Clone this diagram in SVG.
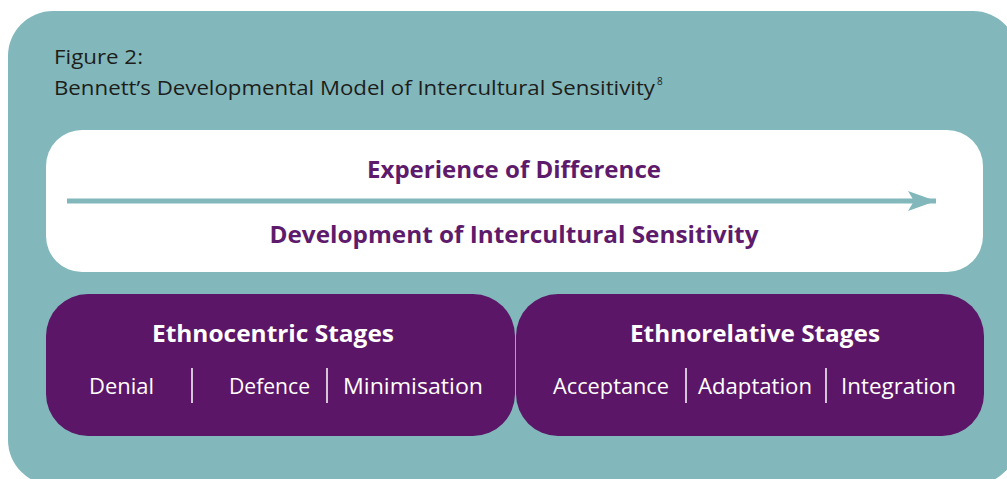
<svg xmlns="http://www.w3.org/2000/svg" width="1007" height="479" viewBox="0 0 1007 479">
  <defs>
    <style>
      .title { font-family: "Open Sans", "Noto Sans", sans-serif; font-size: 20px; fill: #1d1d1b; }
      .head { font-family: "Open Sans", "Noto Sans", sans-serif; font-size: 23px; font-weight: bold; fill: #5e1a6b; text-anchor: middle; }
      .stage { font-family: "Open Sans", "Noto Sans", sans-serif; font-size: 23px; font-weight: bold; fill: #ffffff; text-anchor: middle; }
      .item { font-family: "Open Sans", "Noto Sans", sans-serif; font-size: 21px; fill: #ffffff; }
      .div { stroke: #ffffff; stroke-width: 1.5; }
      .box { fill: #5c1668; }
    </style>
    <marker id="ah" viewBox="0 0 28 20" refX="28" refY="10" markerWidth="28" markerHeight="20" markerUnits="userSpaceOnUse" orient="auto">
      <path d="M0,0 L28,10 L0,20 L6,10 Z" fill="#82b8bb"/>
    </marker>
  </defs>
  <rect id="background" x="8" y="11" width="1010" height="474" rx="45" ry="45" fill="#82b8bb"/>
  <g id="title">
    <text class="title" x="54" y="64" textLength="89" lengthAdjust="spacingAndGlyphs">Figure 2:</text>
    <text class="title" x="54" y="95" textLength="601" lengthAdjust="spacingAndGlyphs">Bennett’s Developmental Model of Intercultural Sensitivity</text>
    <text class="title" x="657" y="85" style="font-size:10px">8</text>
  </g>
  <g id="experience">
    <rect x="46" y="130" width="937" height="142" rx="36" ry="36" fill="#ffffff"/>
    <text class="head" x="514" y="178" textLength="294" lengthAdjust="spacingAndGlyphs">Experience of Difference</text>
    <text class="head" x="514" y="243" textLength="489" lengthAdjust="spacingAndGlyphs">Development of Intercultural Sensitivity</text>
  </g>
  <g id="connectors">
    <line x1="67" y1="201" x2="936" y2="201" stroke="#82b8bb" stroke-width="5" marker-end="url(#ah)"/>
  </g>
  <g id="ethnocentric">
    <rect class="box" x="46" y="294" width="469" height="142" rx="42" ry="42"/>
    <text class="stage" x="273" y="342" textLength="242" lengthAdjust="spacingAndGlyphs">Ethnocentric Stages</text>
    <text class="item" x="89" y="394" textLength="65" lengthAdjust="spacingAndGlyphs">Denial</text>
    <line class="div" x1="192" y1="368" x2="192" y2="403"/>
    <text class="item" x="229" y="394" textLength="81" lengthAdjust="spacingAndGlyphs">Defence</text>
    <line class="div" x1="327" y1="368" x2="327" y2="403"/>
    <text class="item" x="343" y="394" textLength="140" lengthAdjust="spacingAndGlyphs">Minimisation</text>
  </g>
  <g id="ethnorelative">
    <rect class="box" x="516" y="294" width="468" height="142" rx="42" ry="42"/>
    <text class="stage" x="755" y="342" textLength="250" lengthAdjust="spacingAndGlyphs">Ethnorelative Stages</text>
    <text class="item" x="553" y="394" textLength="116" lengthAdjust="spacingAndGlyphs">Acceptance</text>
    <line class="div" x1="686" y1="368" x2="686" y2="403"/>
    <text class="item" x="698" y="394" textLength="114" lengthAdjust="spacingAndGlyphs">Adaptation</text>
    <line class="div" x1="826" y1="368" x2="826" y2="403"/>
    <text class="item" x="841" y="394" textLength="115" lengthAdjust="spacingAndGlyphs">Integration</text>
  </g>
</svg>
